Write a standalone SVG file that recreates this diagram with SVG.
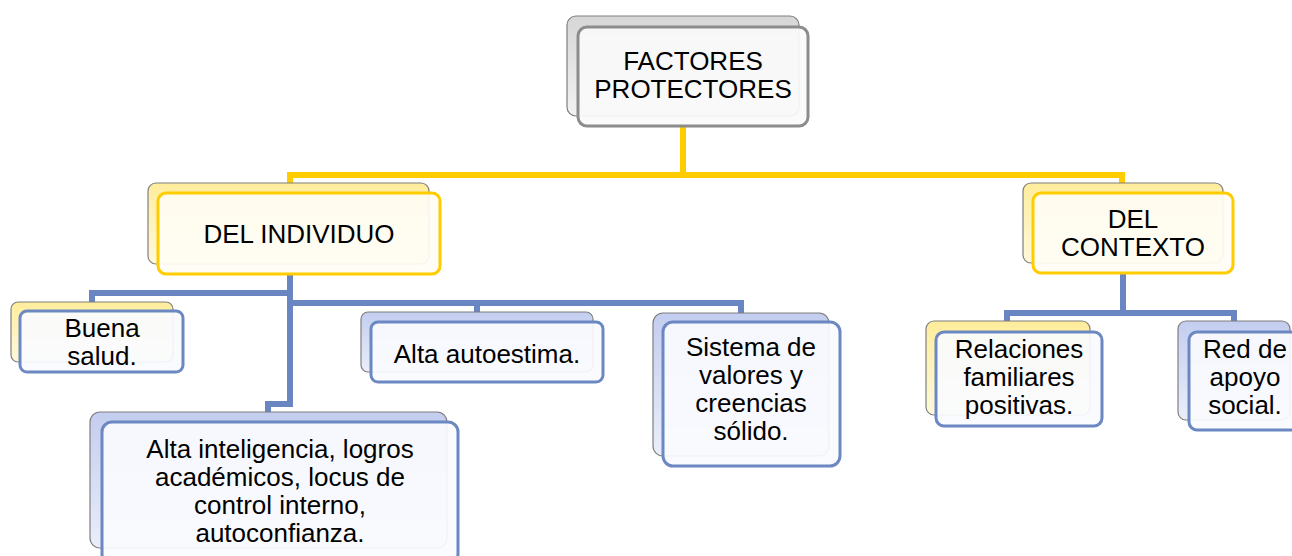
<svg xmlns="http://www.w3.org/2000/svg" width="1292" height="556" viewBox="0 0 1292 556">
<defs>
<linearGradient id="gGrey" x1="0" y1="0" x2="0" y2="1"><stop offset="0" stop-color="#d6d6d6"/><stop offset="1" stop-color="#f2f2f2"/></linearGradient>
<linearGradient id="gYel" x1="0" y1="0" x2="0" y2="1"><stop offset="0" stop-color="#ffed9c"/><stop offset="1" stop-color="#fff9dc"/></linearGradient>
<linearGradient id="gBlue" x1="0" y1="0" x2="0" y2="1"><stop offset="0" stop-color="#c3cdef"/><stop offset="1" stop-color="#eaeefa"/></linearGradient>
</defs>
<style>
.back{stroke:#7f7f7f;stroke-width:1.2}
.bg{fill:url(#gGrey)}
.by{fill:url(#gYel)}
.bb{fill:url(#gBlue)}
.front{stroke-width:3;fill-opacity:0.92}
.fg{stroke:#8c8c8c;fill:#fafafa}
.fy{stroke:#ffcc00;fill:#fffdf4}
.fb{stroke:#6b88c2;fill:#fafbfe}
text{font-family:"Liberation Sans",Arial,sans-serif;font-size:26px;fill:#000;text-anchor:middle}
.cy{stroke:#ffcc00;stroke-width:6;fill:none}
.cb{stroke:#6a86c2;stroke-width:6;fill:none}
</style>
<g id="connectors">
<path class="cy" d="M683,127 V175 M287,175 H1125 M290,175 V193 M1122,175 V193"/>
<path class="cb" d="M290,274 V404 H268 V412"/>
<path class="cb" d="M290,293 H92 V302"/>
<path class="cb" d="M290,303 H741 V313"/>
<path class="cb" d="M477,303 V313"/>
<path class="cb" d="M1123,273 V313 M1004,313 H1237 M1007,313 V321 M1234,313 V321"/>
</g>
<g id="n-factores">
<rect class="back bg" x="567" y="16" width="232" height="100" rx="9"/>
<rect class="front fg" x="578" y="27" width="230" height="99" rx="9"/>
<text x="693" y="70">FACTORES</text>
<text x="693" y="98">PROTECTORES</text>
</g>
<g id="n-individuo">
<rect class="back by" x="148" y="183" width="281" height="81" rx="8"/>
<rect class="front fy" x="158" y="193" width="282" height="81" rx="8"/>
<text x="299" y="243">DEL INDIVIDUO</text>
</g>
<g id="n-contexto">
<rect class="back by" x="1023" y="183" width="200" height="80" rx="8"/>
<rect class="front fy" x="1033" y="193" width="200" height="80" rx="8"/>
<text x="1133" y="228">DEL</text>
<text x="1133" y="256">CONTEXTO</text>
</g>
<g id="n-salud">
<rect class="back by" x="11" y="302" width="162" height="60" rx="7"/>
<rect class="front fb" x="20" y="311" width="163" height="61" rx="7"/>
<text x="102" y="337">Buena</text>
<text x="102" y="365">salud.</text>
</g>
<g id="n-inteligencia">
<rect class="back bb" x="90" y="412" width="357" height="136" rx="10"/>
<rect class="front fb" x="102" y="422" width="356" height="142" rx="10"/>
<text x="280" y="458">Alta inteligencia, logros</text>
<text x="280" y="486">académicos, locus de</text>
<text x="280" y="514">control interno,</text>
<text x="280" y="542">autoconfianza.</text>
</g>
<g id="n-autoestima">
<rect class="back bb" x="361" y="312" width="232" height="60" rx="7"/>
<rect class="front fb" x="371" y="322" width="232" height="60" rx="7"/>
<text x="487" y="363">Alta autoestima.</text>
</g>
<g id="n-sistema">
<rect class="back bb" x="653" y="313" width="176" height="143" rx="10"/>
<rect class="front fb" x="663" y="322" width="177" height="144" rx="10"/>
<text x="751" y="356">Sistema de</text>
<text x="751" y="384">valores y</text>
<text x="751" y="412">creencias</text>
<text x="751" y="440">sólido.</text>
</g>
<g id="n-relaciones">
<rect class="back by" x="926" y="321" width="164" height="94" rx="8"/>
<rect class="front fb" x="936" y="332" width="166" height="94" rx="8"/>
<text x="1019" y="358">Relaciones</text>
<text x="1019" y="386">familiares</text>
<text x="1019" y="414">positivas.</text>
</g>
<g id="n-red">
<rect class="back bb" x="1178" y="321" width="112" height="99" rx="8"/>
<rect class="front fb" x="1189" y="332" width="112" height="98" rx="8"/>
<text x="1245" y="358">Red de</text>
<text x="1245" y="386">apoyo</text>
<text x="1245" y="414">social.</text>
</g>
</svg>
